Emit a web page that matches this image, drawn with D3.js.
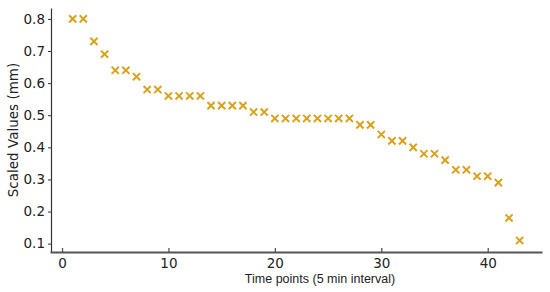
<!DOCTYPE html>
<html>
<head>
<meta charset="utf-8">
<script src="https://cdn.jsdelivr.net/npm/d3@7"></script>
<style>
  body { margin: 0; background: #fff; }
  text { font-family: "DejaVu Sans", sans-serif; fill: #222; }
</style>
</head>
<body>
<div id="graph"></div>
<script>
// time points 1..43, scaled values
var timePoints = d3.range(1, 44)
var values = [0.80, 0.80, 0.73, 0.69, 0.64, 0.64, 0.62, 0.58, 0.58, 0.56,
  0.56, 0.56, 0.56, 0.53, 0.53, 0.53, 0.53, 0.51, 0.51, 0.49,
  0.49, 0.49, 0.49, 0.49, 0.49, 0.49, 0.49, 0.47, 0.47, 0.44,
  0.42, 0.42, 0.40, 0.38, 0.38, 0.36, 0.33, 0.33, 0.31, 0.31,
  0.29, 0.18, 0.11]
var xTicks = [0, 10, 20, 30, 40]
var yTicks = [0.1, 0.2, 0.3, 0.4, 0.5, 0.6, 0.7, 0.8]

var width = 550, height = 292
var svg = d3.select('#graph').append('svg')
  .attr('width', width).attr('height', height)

var x = d3.scaleLinear().domain([-1.13, 45.1]).range([50, 542])
var y = d3.scaleLinear().domain([0.074, 0.834]).range([252, 8])

var axisColor = '#555'

// y axis: thin line, short ticks outside
var yAxis = svg.append('g')
  .attr('transform', 'translate(51,0)')
  .call(d3.axisLeft(y).tickValues(yTicks).tickFormat(d3.format('.1f'))
    .tickSize(3).tickSizeOuter(0).tickPadding(3))
yAxis.select('.domain').attr('stroke', '#333').attr('stroke-width', 1.2)
yAxis.selectAll('.tick line').attr('stroke', '#333')
yAxis.selectAll('text').style('font-size', '13.5px')

// x axis: thick grey line, ticks pointing in
var xAxis = svg.append('g')
  .attr('transform', 'translate(0,252)')
  .call(d3.axisBottom(x).tickValues(xTicks)
    .tickSize(-4).tickSizeOuter(0).tickPadding(6))
xAxis.select('.domain').attr('stroke', axisColor).attr('stroke-width', 2.2)
xAxis.selectAll('.tick line').attr('stroke', axisColor).attr('stroke-width', 1.3)
xAxis.selectAll('text').style('font-size', '13.5px')

svg.append('text')
  .attr('transform', 'translate(18,130) rotate(-90)')
  .attr('text-anchor', 'middle')
  .style('font-size', '13.5px')
  .text('Scaled Values (mm)')

svg.append('text')
  .attr('x', 320).attr('y', 283)
  .attr('text-anchor', 'middle')
  .style('font-family', '"Liberation Sans", Arial, sans-serif')
  .style('font-size', '12.5px')
  .text('Time points (5 min interval)')

// x markers
var s = 3.6
svg.append('g').selectAll('path')
  .data(timePoints)
  .join('path')
  .attr('transform', (d, i) => `translate(${x(d)},${y(values[i])})`)
  .attr('d', `M${-s},${-s}L${s},${s}M${-s},${s}L${s},${-s}`)
  .attr('stroke', '#D9A21E')
  .attr('stroke-width', 2)
  .attr('fill', 'none')
</script>
</body>
</html>
